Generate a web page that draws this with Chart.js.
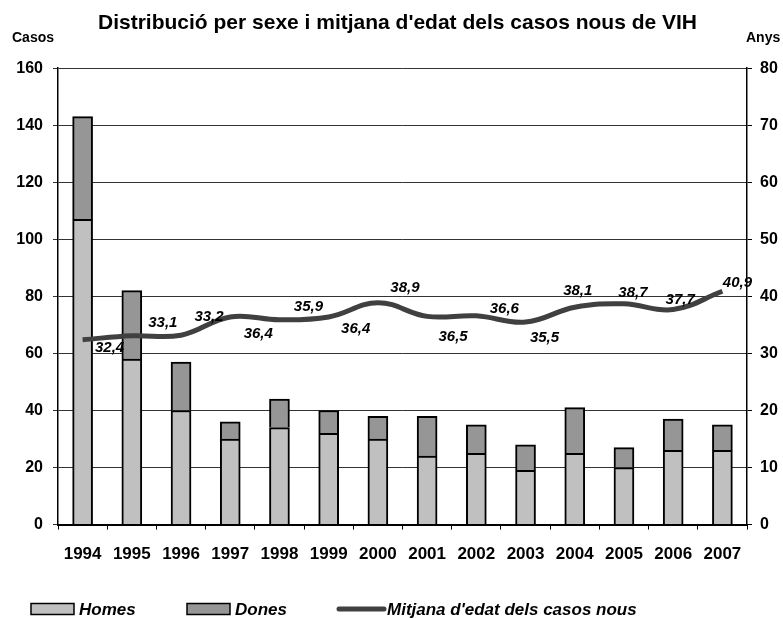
<!DOCTYPE html>
<html>
<head>
<meta charset="utf-8">
<script src="https://cdn.jsdelivr.net/npm/chart.js@4/dist/chart.umd.min.js"></script>
<style>
  html, body { margin: 0; padding: 0; background: #fff; }
  #wrap { width: 783px; height: 618px; position: relative; }
</style>
</head>
<body>
<div id="wrap"><canvas id="c" width="783" height="618"></canvas></div>
<script>
// ---- data ----
const years = ['1994','1995','1996','1997','1998','1999','2000','2001','2002','2003','2004','2005','2006','2007'];
const homes = [107, 58, 40, 30, 34, 32, 30, 24, 25, 19, 25, 20, 26, 26];
const dones = [36, 24, 17, 6, 10, 8, 8, 14, 10, 9, 16, 7, 11, 9];
const mitjana = [32.4, 33.1, 33.2, 36.4, 35.9, 36.4, 38.9, 36.5, 36.6, 35.5, 38.1, 38.7, 37.7, 40.9];
const seriesNames = ['Homes', 'Dones', "Mitjana d'edat dels casos nous"];
const titleText = "Distribució per sexe i mitjana d'edat dels casos nous de VIH";
const leftAxisTitle = 'Casos';
const rightAxisTitle = 'Anys';

const FONT = "'Liberation Sans', Arial, sans-serif";
const colHomes = '#c0c0c0';
const colDones = '#969696';
const colLine = '#404040';

// label offsets (pixels, relative to each point) for the age labels
const labelOffsets = [[27,8],[31,-13],[28,-18],[28,17],[29,-13],[27,12],[27,-15],[26,20],[28,-7],[19,16],[3,-16],[9,-11],[7,-10],[15,-8]];

const fmt = v => v.toFixed(1).replace('.', ',');

const axisTitlePlugin = {
  id: 'axisTitles',
  afterDraw(chart) {
    const ctx = chart.ctx, a = chart.chartArea;
    ctx.save();
    ctx.font = "bold 14px " + FONT;
    ctx.fillStyle = '#000';
    ctx.textBaseline = 'middle';
    ctx.textAlign = 'left';
    ctx.fillText(leftAxisTitle, a.left - 46, 38);
    ctx.fillText(rightAxisTitle, a.right - 1, 38);
    ctx.restore();
  }
};

const lineLabelPlugin = {
  id: 'lineLabels',
  afterDatasetsDraw(chart) {
    const ctx = chart.ctx;
    const meta = chart.getDatasetMeta(0);
    ctx.save();
    ctx.font = "italic bold 15px " + FONT;
    ctx.fillStyle = '#000';
    ctx.textAlign = 'center';
    ctx.textBaseline = 'middle';
    meta.data.forEach((pt, i) => {
      const off = labelOffsets[i] || [0, -12];
      ctx.fillText(fmt(mitjana[i]), pt.x + off[0], pt.y + off[1]);
    });
    ctx.restore();
  }
};

const legendPlugin = {
  id: 'customLegend',
  afterDraw(chart) {
    const ctx = chart.ctx;
    const y = 609;
    ctx.save();
    ctx.font = "italic bold 17px " + FONT;
    ctx.textBaseline = 'middle';
    ctx.textAlign = 'left';
    const boxes = [[31, colHomes, seriesNames[0]], [187, colDones, seriesNames[1]]];
    boxes.forEach(([x, c, t]) => {
      ctx.fillStyle = c;
      ctx.fillRect(x, y - 5.5, 43, 11);
      ctx.strokeStyle = '#000';
      ctx.lineWidth = 1.5;
      ctx.strokeRect(x, y - 5.5, 43, 11);
      ctx.fillStyle = '#000';
      ctx.fillText(t, x + 48, y + 1);
    });
    ctx.strokeStyle = colLine;
    ctx.lineWidth = 5;
    ctx.lineCap = 'round';
    ctx.beginPath();
    ctx.moveTo(339, y);
    ctx.lineTo(384, y);
    ctx.stroke();
    ctx.fillStyle = '#000';
    ctx.fillText(seriesNames[2], 387, y + 1);
    ctx.restore();
  }
};

new Chart(document.getElementById('c'), {
  data: {
    labels: years,
    datasets: [
      {
        type: 'line',
        label: seriesNames[2],
        data: mitjana,
        yAxisID: 'y1',
        borderColor: colLine,
        borderWidth: 5,
        pointRadius: 0,
        tension: 0.4,
        fill: false,
        order: 0
      },
      {
        type: 'bar',
        label: seriesNames[0],
        data: homes,
        yAxisID: 'y',
        stack: 's',
        backgroundColor: colHomes,
        borderColor: '#000',
        borderWidth: 2,
        barThickness: 20,
        order: 1
      },
      {
        type: 'bar',
        label: seriesNames[1],
        data: dones,
        yAxisID: 'y',
        stack: 's',
        backgroundColor: colDones,
        borderColor: '#000',
        borderWidth: 2,
        barThickness: 20,
        order: 1
      }
    ]
  },
  options: {
    responsive: false,
    animation: false,
    layout: { padding: { left: 17, right: 5, top: 0, bottom: 38 } },
    plugins: {
      legend: { display: false },
      tooltip: { enabled: false },
      title: {
        display: true,
        text: titleText,
        color: '#000',
        font: { family: FONT, size: 21, weight: 'bold' },
        padding: { top: 11, bottom: 32 }
      }
    },
    scales: {
      x: {
        stacked: true,
        offset: true,
        grid: { offset: true, drawOnChartArea: false, tickLength: 5, color: '#000', lineWidth: 1 },
        border: { color: '#000', width: 2 },
        ticks: { color: '#000', font: { family: FONT, size: 17, weight: 'bold' }, padding: 15, maxRotation: 0, autoSkip: false }
      },
      y: {
        position: 'left',
        stacked: true,
        min: 0, max: 160,
        afterFit: s => { s.width = 41; },
        ticks: { stepSize: 20, color: '#000', font: { family: FONT, size: 16, weight: 'bold' }, padding: 10 },
        grid: { color: '#333', lineWidth: 1, tickLength: 5 },
        border: { color: '#000', width: 1.5 }
      },
      y1: {
        position: 'right',
        min: 0, max: 80,
        afterFit: s => { s.width = 31; },
        ticks: { stepSize: 10, color: '#000', font: { family: FONT, size: 16, weight: 'bold' }, padding: 8 },
        grid: { drawOnChartArea: false, color: '#000', tickLength: 5 },
        border: { color: '#000', width: 1.5 }
      }
    }
  },
  plugins: [axisTitlePlugin, lineLabelPlugin, legendPlugin]
});
</script>
</body>
</html>
